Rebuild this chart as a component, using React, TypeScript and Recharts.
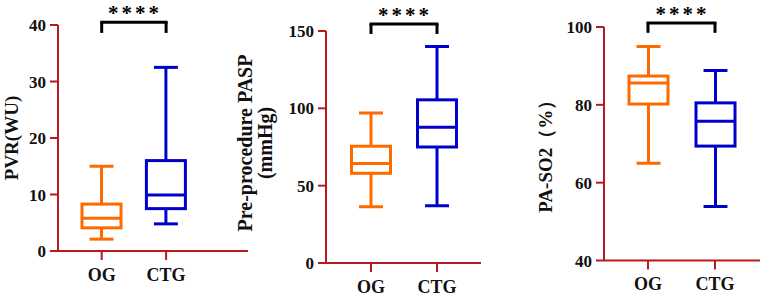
import { Bar, ComposedChart, ReferenceLine, XAxis, YAxis } from "recharts";

const GROUPS = ["OG", "CTG"];

// PVR (WU)
const PVR_MIN = [2.1, 4.8];
const PVR_Q1 = [4.1, 7.5];
const PVR_MEDIAN = [5.8, 9.9];
const PVR_Q3 = [8.3, 16];
const PVR_MAX = [15, 32.5];
const PVR_TICKS = [0, 10, 20, 30, 40];

// Pre-procedure PASP (mmHg)
const PASP_MIN = [36.4, 37];
const PASP_Q1 = [58, 75];
const PASP_MEDIAN = [64.3, 87.7];
const PASP_Q3 = [75.5, 105.5];
const PASP_MAX = [97, 140];
const PASP_TICKS = [0, 50, 100, 150];

// PA-SO2 (%)
const SO2_MIN = [65, 53.9];
const SO2_Q1 = [80.2, 69.4];
const SO2_MEDIAN = [85.6, 75.8];
const SO2_Q3 = [87.4, 80.5];
const SO2_MAX = [95, 88.8];
const SO2_TICKS = [40, 60, 80, 100];

const SIGNIFICANCE = "****";

const FONT = '"Liberation Serif", "Times New Roman", serif';
const AXIS_RED = "#b51a1c";
const BOX_COLORS = ["#ff6a00", "#0000cc"];

function buildRows(
  min: number[],
  q1: number[],
  median: number[],
  q3: number[],
  max: number[]
) {
  return GROUPS.map((g, i) => ({
    group: g,
    range: [min[i], max[i]],
    min: min[i],
    q1: q1[i],
    median: median[i],
    q3: q3[i],
    max: max[i],
    color: BOX_COLORS[i],
  }));
}

/** range bar [min, max] を箱ひげ図として描く */
function BoxShape(props: any) {
  const { x, y, width, height, payload } = props;
  if (x == null || y == null) return null;
  const top = Math.min(y, y + height);
  const bottom = Math.max(y, y + height);
  const span = payload.max - payload.min;
  const toY = (v: number) =>
    bottom - ((v - payload.min) / span) * (bottom - top);
  const cx = x + width / 2;
  const cap = width * 0.57;
  const yQ1 = toY(payload.q1);
  const yQ3 = toY(payload.q3);
  const yMed = toY(payload.median);
  return (
    <g stroke={payload.color} strokeWidth={3} fill="none">
      <line x1={cx} x2={cx} y1={top} y2={yQ3} />
      <line x1={cx} x2={cx} y1={yQ1} y2={bottom} />
      <line x1={cx - cap / 2} x2={cx + cap / 2} y1={top} y2={top} />
      <line x1={cx - cap / 2} x2={cx + cap / 2} y1={bottom} y2={bottom} />
      <rect x={x + 1.5} y={yQ3} width={width - 3} height={yQ1 - yQ3} />
      <line x1={x + 1.5} x2={x + width - 1.5} y1={yMed} y2={yMed} />
    </g>
  );
}

interface PanelProps {
  left: number;
  width: number;
  rows: ReturnType<typeof buildRows>;
  domain: [number, number];
  ticks: number[];
  axisWidth: number;
  plotTop: number;
  plotBottom: number;
  marginRight: number;
  padLeft: number;
  padRight: number;
  labelLines: string[];
  labelX: number[];
  labelDy: number;
  labelSize: number;
  bracketTop: number;
  bracketBottom: number;
}

const H = 298;
const X_AXIS_H = 30;

function BoxPanel(p: PanelProps) {
  const yLabel = (props: any) => {
    const vb = props.viewBox ?? {};
    const cy =
      (vb.y ?? p.plotTop) +
      (vb.height ?? p.plotBottom - p.plotTop) / 2 +
      p.labelDy;
    const x0 = vb.x ?? 0;
    return (
      <g>
        {p.labelLines.map((line, i) => {
          const cx = x0 + p.labelX[i];
          return (
            <text
              key={line}
              x={cx}
              y={cy}
              transform={`rotate(-90, ${cx}, ${cy})`}
              textAnchor="middle"
              dominantBaseline="central"
              fontFamily={FONT}
              fontWeight={700}
              fontSize={p.labelSize}
              fill="#111"
            >
              {line}
            </text>
          );
        })}
      </g>
    );
  };

  const stars = (props: any) => {
    const vb = props.viewBox ?? {};
    return (
      <text
        x={vb.x + vb.width / 2 + 1}
        y={vb.y - 2}
        textAnchor="middle"
        fontFamily={FONT}
        fontWeight={700}
        fontSize={21}
        letterSpacing={3}
        fill="#000"
      >
        {SIGNIFICANCE}
      </text>
    );
  };

  const axisStyle = { stroke: AXIS_RED, strokeWidth: 2 };
  const tickStyle = {
    fill: "#111",
    fontSize: 17,
    fontWeight: 700,
    fontFamily: FONT,
  };

  return (
    <div style={{ position: "absolute", left: p.left, top: 0 }}>
      <ComposedChart
        width={p.width}
        height={H}
        data={p.rows}
        margin={{
          top: p.plotTop,
          right: p.marginRight,
          bottom: H - p.plotBottom - X_AXIS_H,
          left: 0,
        }}
      >
        <XAxis
          dataKey="group"
          height={X_AXIS_H}
          padding={{ left: p.padLeft, right: p.padRight }}
          axisLine={axisStyle}
          tickLine={axisStyle}
          tickSize={9}
          tickMargin={8}
          tick={{ ...tickStyle, fontSize: 18 }}
        />
        <YAxis
          type="number"
          domain={p.domain}
          ticks={p.ticks}
          width={p.axisWidth}
          allowDataOverflow
          axisLine={axisStyle}
          tickLine={axisStyle}
          tickSize={8}
          tickMargin={4}
          tick={tickStyle}
          label={yLabel}
        />
        <Bar
          dataKey="range"
          barSize={42}
          shape={<BoxShape />}
          isAnimationActive={false}
        />
        <ReferenceLine
          segment={[
            { x: GROUPS[0], y: p.bracketTop },
            { x: GROUPS[1], y: p.bracketTop },
          ]}
          ifOverflow="visible"
          stroke="#000"
          strokeWidth={3}
          strokeLinecap="square"
          label={stars}
        />
        <ReferenceLine
          segment={[
            { x: GROUPS[0], y: p.bracketTop },
            { x: GROUPS[0], y: p.bracketBottom },
          ]}
          ifOverflow="visible"
          stroke="#000"
          strokeWidth={3}
        />
        <ReferenceLine
          segment={[
            { x: GROUPS[1], y: p.bracketTop },
            { x: GROUPS[1], y: p.bracketBottom },
          ]}
          ifOverflow="visible"
          stroke="#000"
          strokeWidth={3}
        />
      </ComposedChart>
    </div>
  );
}

export default function App() {
  return (
    <div
      style={{
        position: "absolute",
        left: 0,
        top: 0,
        width: 762,
        height: H,
        background: "#fff",
        overflow: "hidden",
      }}
    >
      <BoxPanel
        left={0}
        width={254}
        rows={buildRows(PVR_MIN, PVR_Q1, PVR_MEDIAN, PVR_Q3, PVR_MAX)}
        domain={[0, 40]}
        ticks={PVR_TICKS}
        axisWidth={58}
        plotTop={25}
        plotBottom={251}
        marginRight={6}
        padLeft={11.5}
        padRight={49.7}
        labelLines={["PVR(WU)"]}
        labelX={[11]}
        labelDy={0}
        labelSize={19}
        bracketTop={40.5}
        bracketBottom={38.6}
      />
      <BoxPanel
        left={230}
        width={260}
        rows={buildRows(PASP_MIN, PASP_Q1, PASP_MEDIAN, PASP_Q3, PASP_MAX)}
        domain={[0, 150]}
        ticks={PASP_TICKS}
        axisWidth={96}
        plotTop={31}
        plotBottom={263}
        marginRight={9}
        padLeft={12}
        padRight={11}
        labelLines={["Pre-procedure PASP", "(mmHg)"]}
        labelX={[15, 35]}
        labelDy={-4}
        labelSize={20}
        bracketTop={154.5}
        bracketBottom={148.1}
      />
      <BoxPanel
        left={500}
        width={262}
        rows={buildRows(SO2_MIN, SO2_Q1, SO2_MEDIAN, SO2_Q3, SO2_MAX)}
        domain={[40, 100]}
        ticks={SO2_TICKS}
        axisWidth={104}
        plotTop={27}
        plotBottom={260.5}
        marginRight={2}
        padLeft={10.5}
        padRight={11.5}
        labelLines={["PA-SO2（%）"]}
        labelX={[45]}
        labelDy={8}
        labelSize={19}
        bracketTop={101}
        bracketBottom={98.5}
      />
    </div>
  );
}
